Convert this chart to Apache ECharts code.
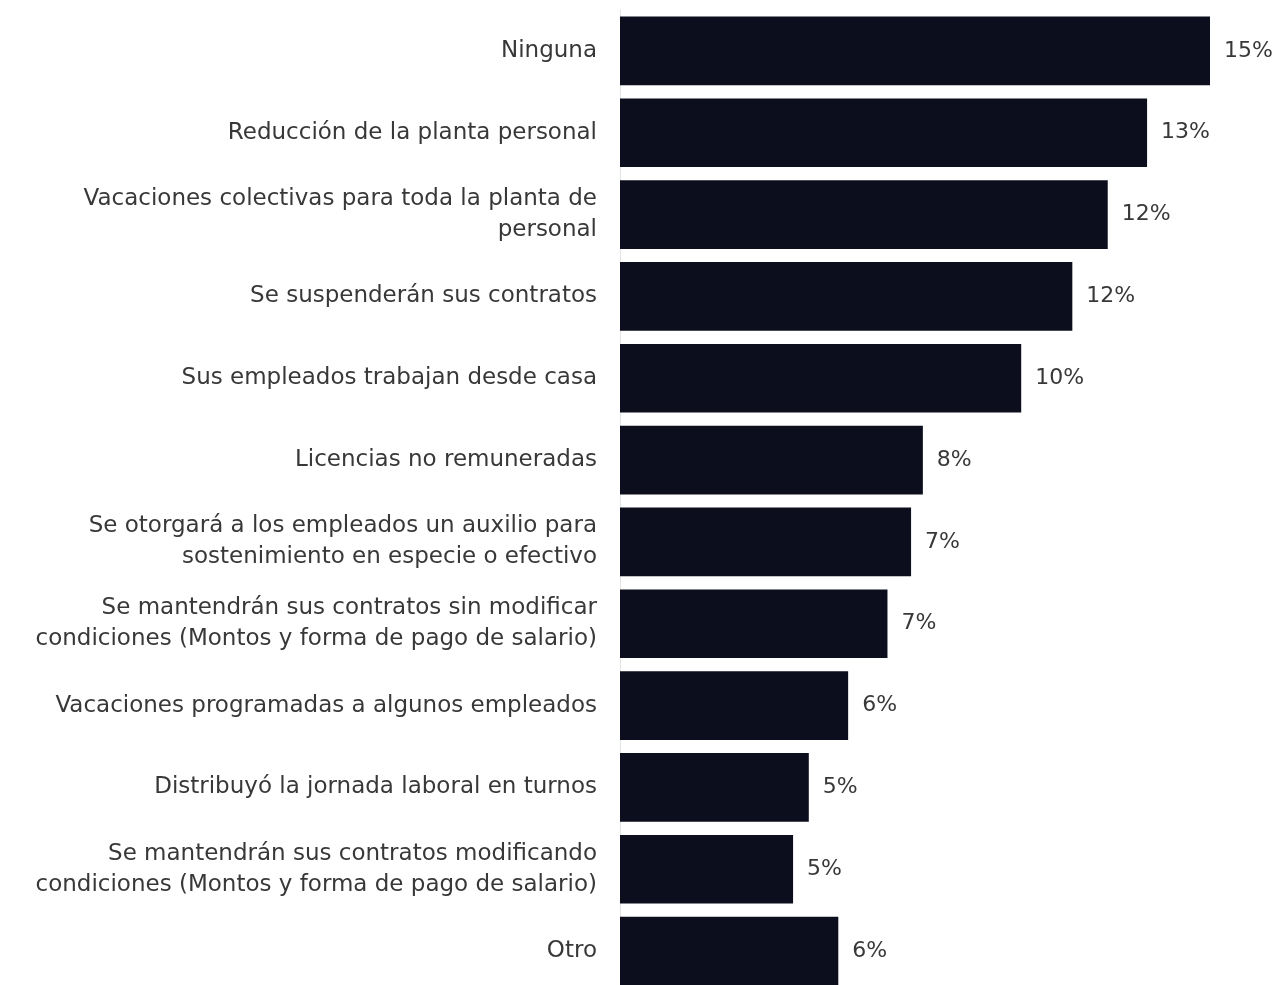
<!DOCTYPE html>
<html><head><meta charset="utf-8">
<script src="https://cdn.jsdelivr.net/npm/echarts@6/dist/echarts.min.js"></script>
<style>html,body{margin:0;padding:0;background:#fff}#c{width:1277px;height:985px}</style>
</head><body><div id="c"></div>
<script>
const categories = [
  "Ninguna",
  "Reducción de la planta personal",
  "Vacaciones colectivas para toda la planta de\npersonal",
  "Se suspenderán sus contratos",
  "Sus empleados trabajan desde casa",
  "Licencias no remuneradas",
  "Se otorgará a los empleados un auxilio para\nsostenimiento en especie o efectivo",
  "Se mantendrán sus contratos sin modificar\ncondiciones (Montos y forma de pago de salario)",
  "Vacaciones programadas a algunos empleados",
  "Distribuyó la jornada laboral en turnos",
  "Se mantendrán sus contratos modificando\ncondiciones (Montos y forma de pago de salario)",
  "Otro"
];
const values = [15.0, 13.4, 12.4, 11.5, 10.2, 7.7, 7.4, 6.8, 5.8, 4.8, 4.4, 5.55];
const valueLabels = ["15%", "13%", "12%", "12%", "10%", "8%", "7%", "7%", "6%", "5%", "5%", "6%"];

const chart = echarts.init(document.getElementById('c'), null, {renderer: 'canvas'});
chart.setOption({
  backgroundColor: '#ffffff',
  animation: false,
  grid: {left: 620, top: 10, width: 649, height: 982, containLabel: false, outerBoundsMode: 'none'},
  xAxis: {type: 'value', min: 0, max: 16.5, show: false},
  yAxis: {
    type: 'category', inverse: true, data: categories,
    axisLine: {show: true, lineStyle: {color: '#e4e4e4', width: 1}},
    axisTick: {show: false},
    axisLabel: {
      margin: 23, color: '#383838', fontFamily: '"DejaVu Sans", sans-serif',
      fontSize: 23, lineHeight: 31, align: 'right'
    }
  },
  series: [{
    type: 'bar', data: values, barCategoryGap: '16%',
    itemStyle: {color: '#0c0e1d'},
    label: {
      show: true, position: 'right', distance: 14,
      color: '#383838', fontFamily: '"DejaVu Sans", sans-serif', fontSize: 22,
      formatter: p => valueLabels[p.dataIndex]
    }
  }]
});
</script></body></html>
